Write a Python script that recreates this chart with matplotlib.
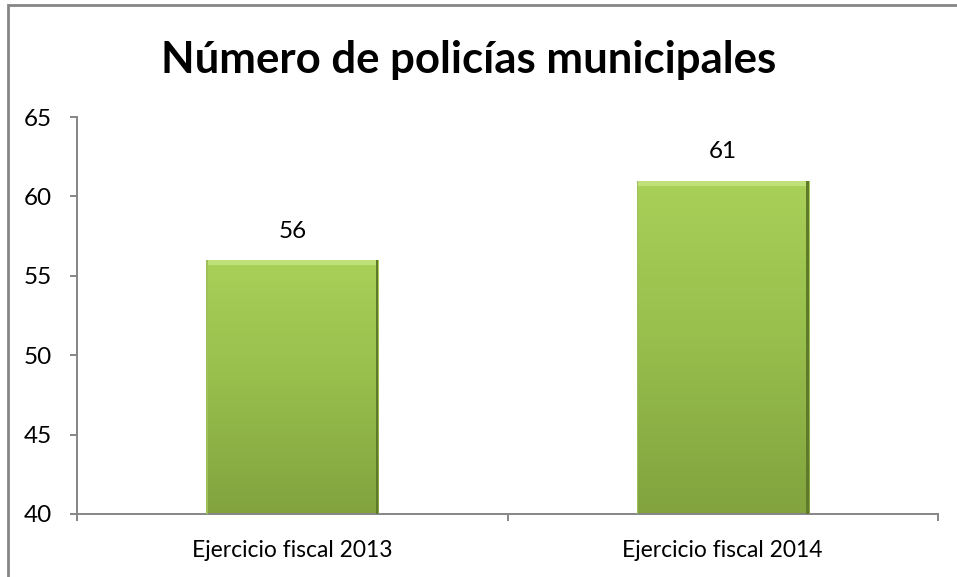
import numpy as np
import matplotlib.pyplot as plt
from matplotlib.patches import Rectangle
from matplotlib.colors import LinearSegmentedColormap

# data
categories = ['Ejercicio fiscal 2013', 'Ejercicio fiscal 2014']
valores = [56, 61]
titulo = 'Número de policías municipales'

plt.rcParams['font.family'] = ['Lato', 'DejaVu Sans']

fig = plt.figure(figsize=(9.57, 5.77), dpi=100)
ax = fig.add_axes([77/957, 1 - 514/577, (938 - 77)/957, (514 - 117)/577])

gris = '#868686'
cmap = LinearSegmentedColormap.from_list('verde', ['#82a33e', '#97bd4c', '#a9d058'])
grad = np.linspace(0, 1, 256).reshape(-1, 1)

x = np.arange(len(categories))
ancho = 0.40
ymin = 40
bars = ax.bar(x, valores, width=ancho, color='none', edgecolor='none')
for b, v in zip(bars, valores):
    x0 = b.get_x()
    x1 = x0 + b.get_width()
    im = ax.imshow(grad, extent=[x0, x1, ymin, v], origin='lower', cmap=cmap,
                   aspect='auto', zorder=2)
    im.set_clip_path(b)
    # bevel claro arriba y sombra a la derecha
    ax.add_patch(Rectangle((x0, v - 0.35), x1 - x0, 0.35, color='#c0e07a', lw=0, zorder=3))
    ax.add_patch(Rectangle((x1 - 0.006, ymin), 0.006, v - ymin, color='#5f7a2a', lw=0, zorder=3))
    ax.add_patch(Rectangle((x0, ymin), 0.004, v - ymin, color='#9fbf5a', lw=0, zorder=3))
    ax.text(b.get_x() + b.get_width() / 2, v + 1.8, str(v), ha='center', va='center',
            fontsize=17.5, color='black')

ax.set_xlim(-0.5, len(categories) - 0.5)
ax.set_ylim(40, 65)
ax.set_yticks(np.arange(40, 66, 5))
ax.set_xticks(np.arange(-0.5, len(categories), 1))
ax.set_xticklabels([])
ax.set_xticks(x, minor=True)
ax.set_xticklabels(categories, minor=True)
ax.tick_params(axis='x', which='minor', length=0, pad=19, labelsize=16.5)
ax.tick_params(axis='x', which='major', length=5, width=1.4, color=gris)
ax.tick_params(axis='y', length=5, width=1.4, color=gris, labelsize=17.5, pad=13)

for s in ['top', 'right']:
    ax.spines[s].set_visible(False)
for s in ['left', 'bottom']:
    ax.spines[s].set_color(gris)
    ax.spines[s].set_linewidth(1.4)

fig.text(469/957, 1 - 60/577, titulo, ha='center', va='center', fontsize=31.5,
         fontweight='bold')

# marco del gráfico
fig.add_artist(Rectangle((8/957, -0.5), 2, 1.5 - 5/577, transform=fig.transFigure,
                         fill=False, edgecolor=gris, lw=2))

fig.savefig('out.png', dpi=100)
